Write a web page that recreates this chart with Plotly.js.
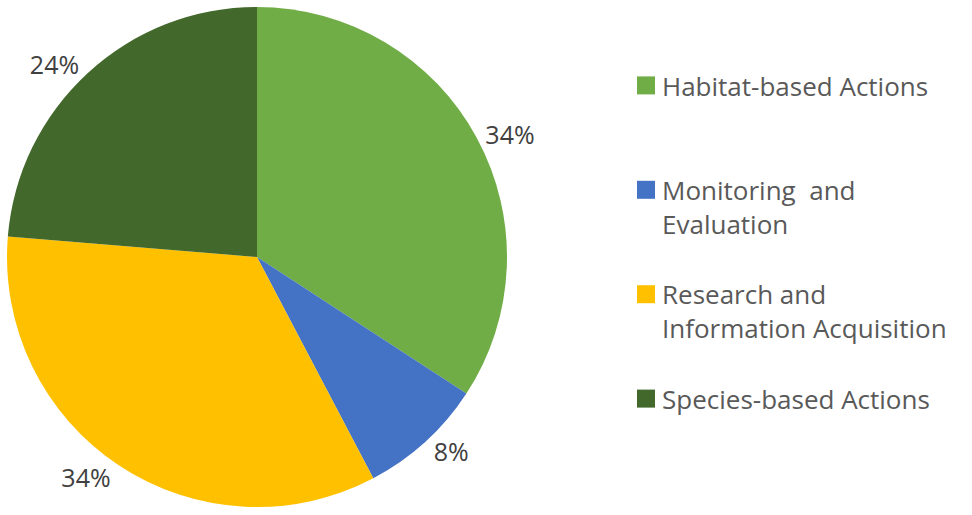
<!DOCTYPE html>
<html>
<head>
<meta charset="utf-8">
<script src="https://cdn.plot.ly/plotly-3.0.1.min.js"></script>
<style>
html,body{margin:0;padding:0;background:#fff;}
#chart{width:972px;height:515px;}
</style>
</head>
<body>
<div id="chart"></div>
<script>
const categories = ["Habitat-based Actions", "Monitoring  and<br>Evaluation", "Research and<br>Information Acquisition", "Species-based Actions"];
const shares = [34.2, 8.1, 34.0, 23.7];
const colors = ["#70AD47", "#4472C4", "#FFC000", "#43682B"];

// pad every legend entry to three lines so entries sit in equal slots
const legendLabels = categories.map(function (c) {
  const n = c.split("<br>").length;
  let s = c;
  for (let i = n; i < 3; i++) s += "<br> ";
  return s;
});

const trace = {
  type: "pie",
  labels: legendLabels,
  values: shares,
  sort: false,
  direction: "clockwise",
  rotation: 0,
  marker: {colors: colors, line: {width: 0}},
  textposition: "outside",
  texttemplate: "%{percent:.0%}",
  textfont: {family: "Open Sans, sans-serif", size: 25, color: "#404040"},
  hoverinfo: "percent",
  domain: {x: [7/972, 507/972], y: [0, 1]},
  automargin: false,
  showlegend: true
};

const layout = {
  width: 972, height: 515,
  margin: {l: 0, r: 0, t: 7, b: 8},
  paper_bgcolor: "#ffffff",
  plot_bgcolor: "#ffffff",
  font: {family: "Open Sans, sans-serif", color: "#595959"},
  legend: {
    x: 622/972, y: 0.89, xanchor: "left", yanchor: "top",
    font: {family: "Open Sans, sans-serif", size: 26, color: "#595959"},
    itemwidth: 30,
    valign: "top",
    traceorder: "normal"
  }
};

Plotly.newPlot("chart", [trace], layout, {displayModeBar: false, staticPlot: true}).then(function (gd) {
  // enlarge the legend swatches to Excel-like squares
  gd.querySelectorAll(".legend .legendpoints path").forEach(function (p) {
    p.setAttribute("d", "M13,9H-5V-9H13Z");
  });
});
</script>
</body>
</html>
